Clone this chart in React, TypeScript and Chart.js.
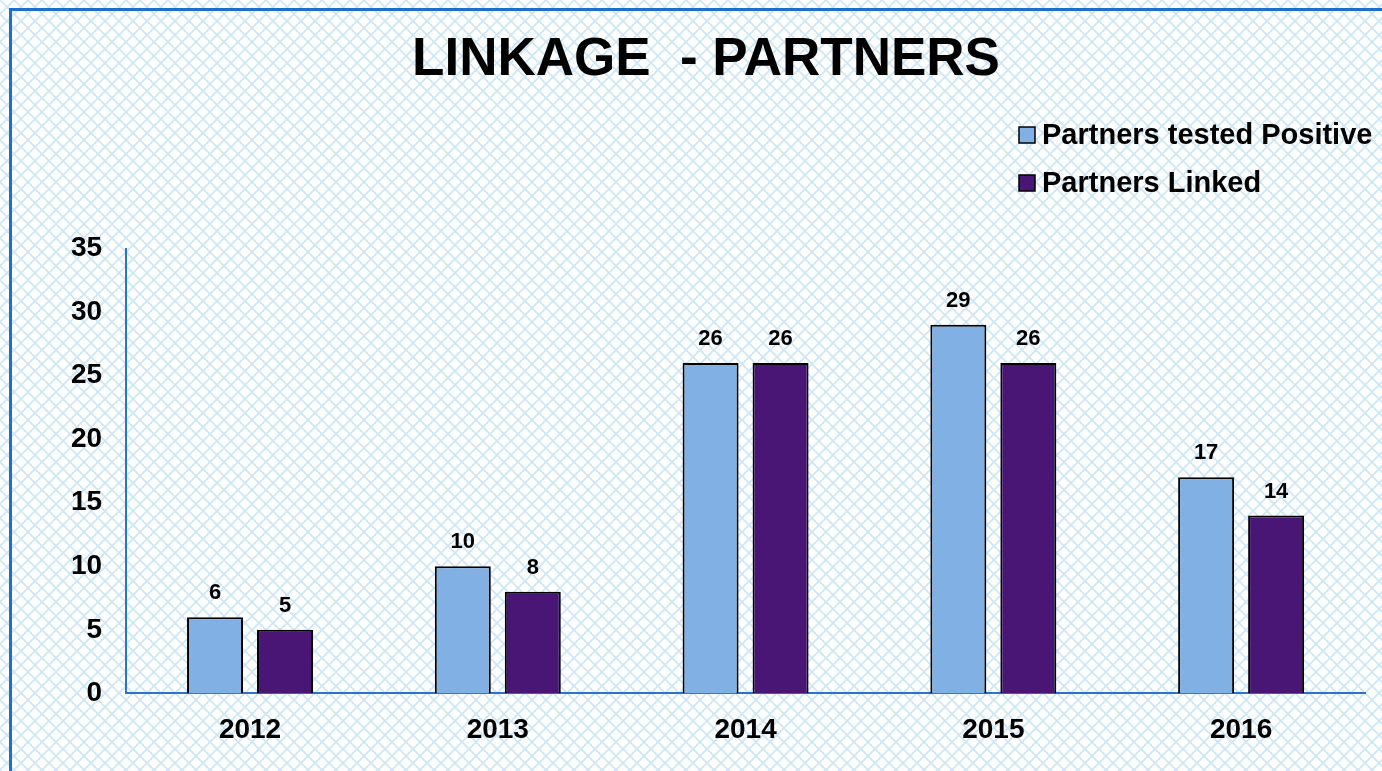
import React, { useEffect, useRef } from 'react';
import { Chart, registerables } from 'chart.js';

Chart.register(...registerables);

const categories: string[] = ['2012', '2013', '2014', '2015', '2016'];
const testedPositive: number[] = [6, 10, 26, 29, 17];
const partnersLinked: number[] = [5, 8, 26, 26, 14];
const seriesNames: string[] = ['Partners tested Positive', 'Partners Linked'];
const yMax = 35;
const yStep = 5;
const chartTitle = 'LINKAGE  - PARTNERS';

const FONT = '"Liberation Sans", Arial, sans-serif';
const BLUE_FILL = '#80b0e4';
const PURPLE_FILL = '#4a1676';
const FRAME_BLUE = '#1c6fcd';

function makeLattice(): CanvasPattern | string {
  const c = document.createElement('canvas');
  const s = 14;
  c.width = s;
  c.height = s;
  const ctx = c.getContext('2d');
  if (!ctx) return '#ffffff';
  ctx.fillStyle = '#ffffff';
  ctx.fillRect(0, 0, s, s);
  ctx.strokeStyle = '#cde6f6';
  ctx.lineWidth = 1.7;
  ctx.beginPath();
  ctx.moveTo(0, 0);
  ctx.lineTo(s, s);
  ctx.moveTo(s, 0);
  ctx.lineTo(0, s);
  ctx.stroke();
  const p = ctx.createPattern(c, 'repeat');
  return p || '#ffffff';
}

const backgroundPlugin = {
  id: 'bgLattice',
  beforeDraw(chart: any) {
    const { ctx, width, height } = chart;
    ctx.save();
    ctx.fillStyle = makeLattice();
    ctx.fillRect(0, 0, width, height);
    ctx.strokeStyle = FRAME_BLUE;
    ctx.lineWidth = 3;
    ctx.beginPath();
    ctx.moveTo(10.5, height + 5);
    ctx.lineTo(10.5, 9.5);
    ctx.lineTo(width + 5, 9.5);
    ctx.stroke();
    ctx.restore();
  },
};

const valueLabelPlugin = {
  id: 'valueLabels',
  afterDatasetsDraw(chart: any) {
    const { ctx } = chart;
    ctx.save();
    ctx.font = `bold 22px ${FONT}`;
    ctx.fillStyle = '#000000';
    ctx.textAlign = 'center';
    ctx.textBaseline = 'middle';
    chart.data.datasets.forEach((ds: any, i: number) => {
      const meta = chart.getDatasetMeta(i);
      meta.data.forEach((el: any, j: number) => {
        ctx.fillText(String(ds.data[j]), el.x, el.y - 24);
      });
    });
    ctx.restore();
  },
};

const sideLegendPlugin = {
  id: 'sideLegend',
  afterDraw(chart: any) {
    const { ctx } = chart;
    const x0 = chart.chartArea.right - 346;
    const y0 = 135;
    const rowGap = 48;
    ctx.save();
    ctx.font = `bold 29px ${FONT}`;
    ctx.textAlign = 'left';
    ctx.textBaseline = 'middle';
    chart.data.datasets.forEach((ds: any, i: number) => {
      const y = y0 + i * rowGap;
      ctx.fillStyle = ds.backgroundColor;
      ctx.fillRect(x0, y - 8, 16, 16);
      ctx.strokeStyle = '#000000';
      ctx.lineWidth = 1.5;
      ctx.strokeRect(x0, y - 8, 16, 16);
      ctx.fillStyle = '#000000';
      ctx.fillText(ds.label, x0 + 23, y + 1);
    });
    ctx.restore();
  },
};

export default function App() {
  const canvasRef = useRef<HTMLCanvasElement | null>(null);

  useEffect(() => {
    if (!canvasRef.current) return;
    const chart = new Chart(canvasRef.current, {
      type: 'bar',
      data: {
        labels: categories,
        datasets: [
          {
            label: seriesNames[0],
            data: testedPositive,
            backgroundColor: BLUE_FILL,
            borderColor: '#000000',
            borderWidth: 2,
            categoryPercentage: 0.565,
            barPercentage: 0.8,
          },
          {
            label: seriesNames[1],
            data: partnersLinked,
            backgroundColor: PURPLE_FILL,
            borderColor: '#000000',
            borderWidth: 2,
            categoryPercentage: 0.565,
            barPercentage: 0.8,
          },
        ],
      },
      options: {
        responsive: false,
        animation: false,
        devicePixelRatio: 1,
        layout: { padding: { left: 47, right: 55, top: 0, bottom: 4 } },
        plugins: {
          legend: { display: false },
          tooltip: { enabled: false },
          title: {
            display: true,
            text: chartTitle,
            color: '#000000',
            font: { family: FONT, size: 53, weight: 'bold' },
            padding: { top: 29, bottom: 156 },
          },
        },
        scales: {
          x: {
            grid: { display: false, drawTicks: false },
            border: { display: true, color: '#2a74cc', width: 2 },
            ticks: {
              color: '#000000',
              font: { family: FONT, size: 28, weight: 'bold' },
              padding: 20,
            },
          },
          y: {
            min: 0,
            max: yMax,
            grid: { display: false, drawTicks: false },
            border: { display: true, color: '#2a74cc', width: 2 },
            ticks: {
              stepSize: yStep,
              color: '#000000',
              font: { family: FONT, size: 28, weight: 'bold' },
              padding: 24,
            },
          },
        },
      },
      plugins: [backgroundPlugin, valueLabelPlugin, sideLegendPlugin],
    });
    return () => chart.destroy();
  }, []);

  return (
    <div
      style={{
        position: 'fixed',
        left: 0,
        top: 0,
        width: 1382,
        height: 771,
        overflow: 'hidden',
        background: '#ffffff',
      }}
    >
      <canvas ref={canvasRef} width={1420} height={771} style={{ display: 'block' }} />
    </div>
  );
}
